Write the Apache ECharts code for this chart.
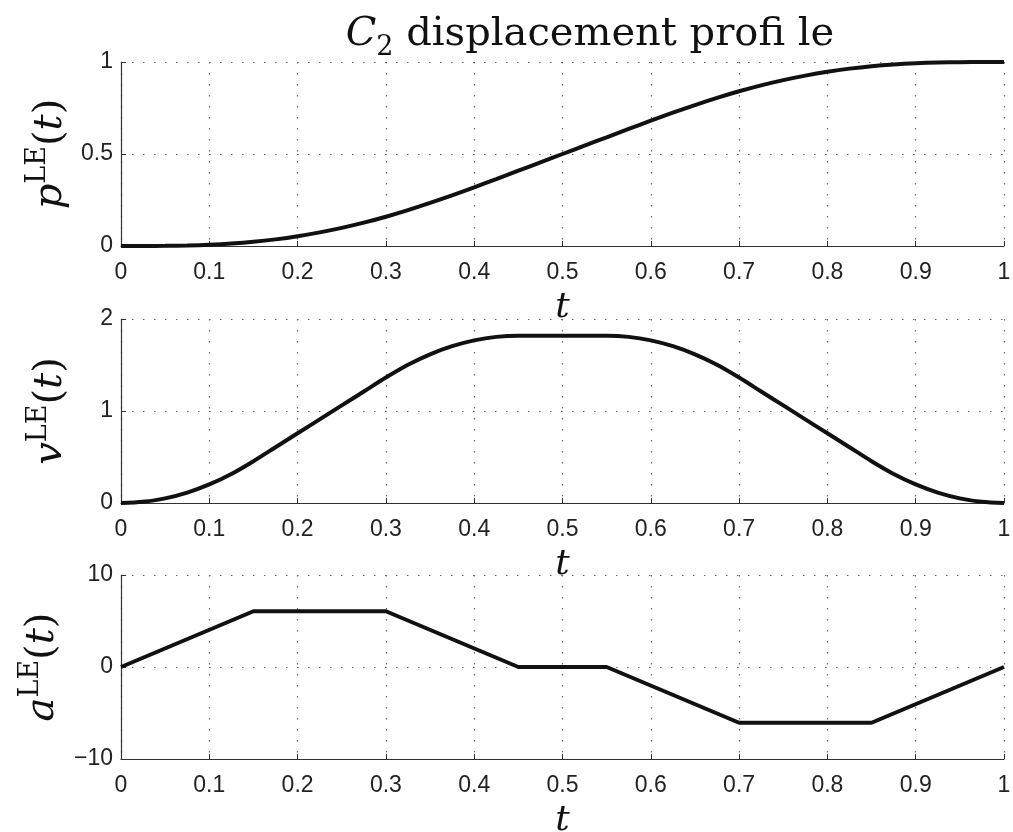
<!DOCTYPE html>
<html>
<head>
<meta charset="utf-8">
<script src="https://cdn.jsdelivr.net/npm/echarts@6/dist/echarts.min.js"></script>
<style>
    html, body { margin: 0; padding: 0; background: #fff; }
    #main { width: 1013px; height: 832px; }
</style>
</head>
<body>
<div id="main"></div>
<script>
// sample times
const tPts = [0, 0.025, 0.05, 0.075, 0.1, 0.125, 0.15, 0.175, 0.2, 0.225, 0.25, 0.275, 0.3, 0.325, 0.35, 0.375, 0.4, 0.425, 0.45, 0.475, 0.5,
    0.525, 0.55, 0.575, 0.6, 0.625, 0.65, 0.675, 0.7, 0.725, 0.75, 0.775, 0.8, 0.825, 0.85, 0.875, 0.9, 0.925, 0.95, 0.975, 1]
// displacement p(t)
const pVals = [0, 0.0001, 0.0008, 0.0028, 0.0067, 0.0132, 0.0227, 0.036, 0.053, 0.0739, 0.0985, 0.1269, 0.1591, 0.195, 0.234, 0.2756, 0.319, 0.3637, 0.4091, 0.4545, 0.5,
    0.5455, 0.5909, 0.6363, 0.681, 0.7244, 0.766, 0.805, 0.8409, 0.8731, 0.9015, 0.9261, 0.947, 0.964, 0.9773, 0.9868, 0.9933, 0.9972, 0.9992, 0.9999, 1]
// velocity v(t)
const vVals = [0, 0.0126, 0.0505, 0.1136, 0.202, 0.3157, 0.4545, 0.6061, 0.7576, 0.9091, 1.0606, 1.2121, 1.3636, 1.5025, 1.6162, 1.7045, 1.7677, 1.8056, 1.8182, 1.8182, 1.8182,
    1.8182, 1.8182, 1.8056, 1.7677, 1.7045, 1.6162, 1.5025, 1.3636, 1.2121, 1.0606, 0.9091, 0.7576, 0.6061, 0.4545, 0.3157, 0.202, 0.1136, 0.0505, 0.0126, 0]
// acceleration a(t), piecewise linear corners
const aT = [0, 0.15, 0.3, 0.45, 0.55, 0.7, 0.85, 1]
const aVals = [0, 6.06, 6.06, 0, 0, -6.06, -6.06, 0]

const yNames = ['p', 'v', 'a']
const yMin = [0, 0, -10]
const yMax = [1, 2, 10]
const yStep = [0.5, 1, 10]
const gridTops = [62, 319, 575]

const main = document.getElementById('main')
const mychart = echarts.init(main, null, { renderer: 'canvas' })

const serif = 'DejaVu Serif'
const sans = 'Liberation Sans'

const nameRich = {
    i: { fontFamily: serif, fontStyle: 'italic', fontWeight: 'normal', fontSize: 40, color: '#111', lineHeight: 46, verticalAlign: 'bottom' },
    r: { fontFamily: serif, fontWeight: 'normal', fontSize: 40, color: '#111', lineHeight: 46, verticalAlign: 'bottom' },
    s: { fontFamily: serif, fontWeight: 'normal', fontSize: 27, color: '#111', lineHeight: 46, verticalAlign: 'top' }
}

const dotted = { color: '#666', width: 1.2, type: [1.5, 9.5] }

// v6 shrinks grids to fit labels unless told not to
const grids = gridTops.map(top => ({ left: 121, width: 883, top: top, height: 184, outerBoundsMode: 'none', containLabel: false }))

const xAxes = gridTops.map((_, i) => ({
    type: 'value', gridIndex: i, min: 0, max: 1, interval: 0.1,
    name: 't', nameLocation: 'middle', nameGap: 44,
    nameTextStyle: { fontFamily: serif, fontStyle: 'italic', fontSize: 36, color: '#111' },
    axisLine: { show: true, onZero: false, lineStyle: { color: '#333', width: 1.2 } },
    axisTick: { show: true, inside: true, length: 5, lineStyle: { color: '#333' } },
    axisLabel: { fontFamily: sans, fontSize: 23, color: '#222', margin: 15 },
    splitLine: { show: true, lineStyle: dotted }
}))

const yAxes = gridTops.map((_, i) => ({
    type: 'value', gridIndex: i, min: yMin[i], max: yMax[i], interval: yStep[i],
    name: '{i|' + yNames[i] + '}{s|LE}{r|(}{i|t}{r|)}',
    nameLocation: 'middle', nameGap: 50, nameRotate: 90,
    nameTextStyle: { rich: nameRich },
    axisLine: { show: true, onZero: false, lineStyle: { color: '#333', width: 1.2 } },
    axisTick: { show: true, inside: true, length: 5, lineStyle: { color: '#333' } },
    axisLabel: {
        fontFamily: sans, fontSize: 23, color: '#222', margin: 8,
        formatter: v => String(v).replace('-', '\u2212')
    },
    splitLine: { show: true, lineStyle: dotted }
}))

const lineStyle = { color: '#111', width: 4 }

var option = {
    animation: false,
    backgroundColor: '#fff',
    title: {
        text: '{c|C}{sub|2}{n| displacement profi le}',
        left: 585, top: 10, textAlign: 'center',
        textStyle: {
            fontWeight: 'normal',
            rich: {
                c: { fontFamily: serif, fontStyle: 'italic', fontWeight: 'normal', fontSize: 40, color: '#111', lineHeight: 46, verticalAlign: 'top' },
                sub: { fontFamily: serif, fontWeight: 'normal', fontSize: 27, color: '#111', lineHeight: 46, verticalAlign: 'bottom' },
                n: { fontFamily: serif, fontWeight: 'normal', fontSize: 40, color: '#111', lineHeight: 46, verticalAlign: 'top' }
            }
        }
    },
    grid: grids,
    xAxis: xAxes,
    yAxis: yAxes,
    series: [
        {
            type: 'line', xAxisIndex: 0, yAxisIndex: 0, showSymbol: false, smooth: 0.3,
            data: tPts.map((t, k) => [t, pVals[k]]), lineStyle: lineStyle
        },
        {
            type: 'line', xAxisIndex: 1, yAxisIndex: 1, showSymbol: false, smooth: 0.3,
            data: tPts.map((t, k) => [t, vVals[k]]), lineStyle: lineStyle
        },
        {
            type: 'line', xAxisIndex: 2, yAxisIndex: 2, showSymbol: false,
            data: aT.map((t, k) => [t, aVals[k]]), lineStyle: lineStyle
        }
    ]
}

mychart.setOption(option)
</script>
</body>
</html>
